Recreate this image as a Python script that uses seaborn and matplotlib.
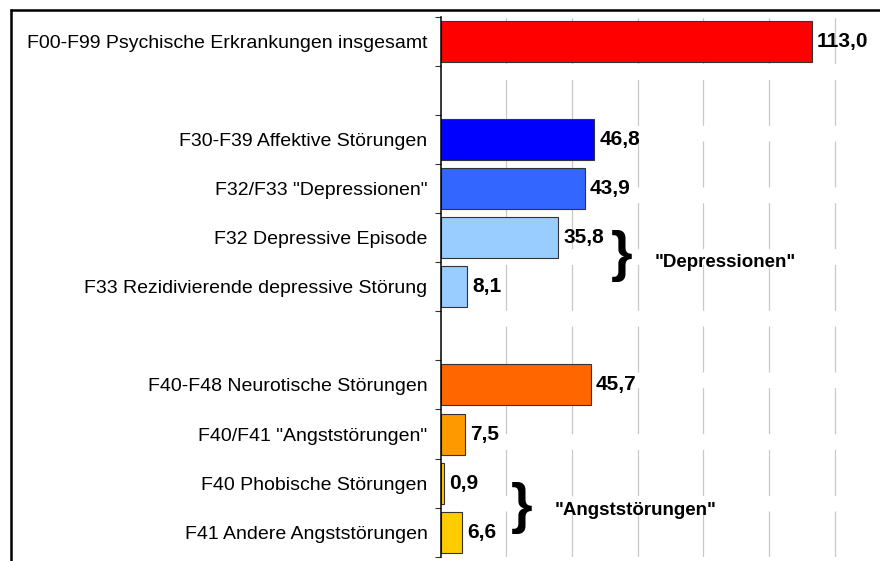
import numpy as np
import pandas as pd
import matplotlib
matplotlib.use("Agg")
import matplotlib.pyplot as plt
from matplotlib.lines import Line2D
import seaborn as sns

# Daten
labels = [
    "F00-F99 Psychische Erkrankungen insgesamt",
    "F30-F39 Affektive Störungen",
    'F32/F33 "Depressionen"',
    "F32 Depressive Episode",
    "F33 Rezidivierende depressive Störung",
    "F40-F48 Neurotische Störungen",
    'F40/F41 "Angststörungen"',
    "F40 Phobische Störungen",
    "F41 Andere Angststörungen",
]
values = [113.0, 46.8, 43.9, 35.8, 8.1, 45.7, 7.5, 0.9, 6.6]
colors = ["#FF0000", "#0000FF", "#3366FF", "#99CCFF", "#99CCFF",
          "#FF6600", "#FF9900", "#FFCC00", "#FFCC00"]
# Reihenfolge mit zwei Leerzeilen
order = [labels[0], "", labels[1], labels[2], labels[3], labels[4], " ",
         labels[5], labels[6], labels[7], labels[8]]

sns.set_style("white")
plt.rcParams["font.family"] = ["Liberation Sans", "DejaVu Sans"]
plt.rcParams["text.color"] = "black"
plt.rcParams["ytick.color"] = "black"
plt.rcParams["lines.scale_dashes"] = False

fig = plt.figure(figsize=(8.8, 5.61), dpi=100)
ax = fig.add_axes([0.5008, 0.0077, 0.4992, 0.9620])

df = pd.DataFrame({"Diagnose": labels, "Wert": values})
sns.barplot(data=df, x="Wert", y="Diagnose", hue="Diagnose", order=order,
            hue_order=labels, palette=dict(zip(labels, colors)), legend=False,
            dodge=False, errorbar=None, width=0.836, saturation=1,
            edgecolor="#333333", linewidth=0.8, orient="h", ax=ax)

ax.set_xlabel("")
ax.set_ylabel("")
ax.set_xlim(0, 133.8)
ax.set_ylim(10.5, -0.5)

# vertikale Gitterlinien (gestrichelt)
ax.set_xticks(range(20, 121, 20))
ax.tick_params(axis="x", length=0, labelbottom=False)
ax.grid(axis="x", color="#c8c8c8", linewidth=0.9, linestyle=(0, (33.1, 11.3)))
ax.set_axisbelow(True)

# Striche an den Kategoriegrenzen, Beschriftung in der Mitte
ax.set_yticks(np.arange(-0.5, 11, 1))
ax.set_yticklabels([])
ax.set_yticks(range(11), minor=True)
ax.set_yticklabels(order, minor=True, fontsize=14, color="black")
ax.tick_params(axis="y", which="major", left=True, length=4, width=0.8,
               color="#333333", direction="out")
ax.tick_params(axis="y", which="minor", left=True, length=0, pad=9.5)

for s in ["top", "right", "bottom"]:
    ax.spines[s].set_visible(False)
ax.spines["left"].set_color("black")
ax.spines["left"].set_linewidth(1.1)

for c in ax.containers:
    ax.bar_label(c, labels=[f"{v:.1f}".replace(".", ",") for v in c.datavalues],
                 padding=3.6, fontsize=15, fontweight="bold", color="black")

# Klammern
ax.text(55.1, 4.37, "}", fontsize=40, fontweight="bold", ha="center", va="center",
        color="black")
ax.text(65.3, 4.5, '"Depressionen"', fontsize=13.5, fontweight="bold",
        ha="left", va="center", color="black")
ax.text(24.6, 9.5, "}", fontsize=40, fontweight="bold", ha="center", va="center",
        color="black")
ax.text(34.8, 9.55, '"Angststörungen"', fontsize=13.5, fontweight="bold",
        ha="left", va="center", color="black")

# Rahmen oben und links
fig.add_artist(Line2D([10.5 / 880, 1], [1 - 9.5 / 561] * 2, color="black",
                      lw=1.8, transform=fig.transFigure))
fig.add_artist(Line2D([11.2 / 880] * 2, [0, 1 - 9.5 / 561], color="black",
                      lw=1.8, transform=fig.transFigure, solid_capstyle="projecting"))

fig.savefig("out.png", dpi=100)
